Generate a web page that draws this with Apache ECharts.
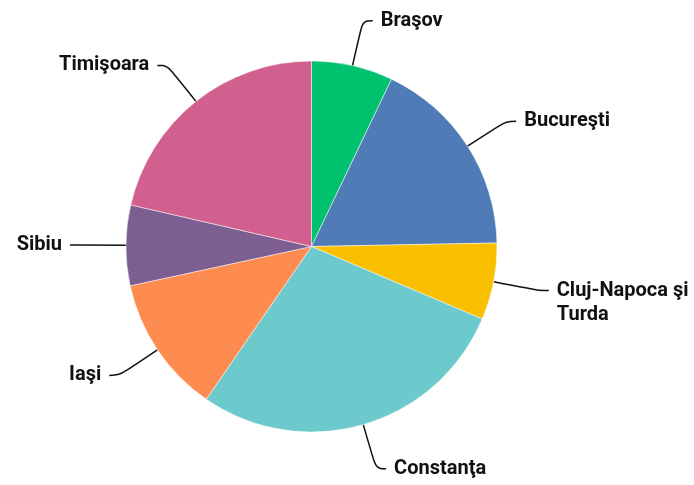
<!DOCTYPE html>
<html>
<head>
<meta charset="utf-8">
<script src="https://cdn.jsdelivr.net/npm/echarts@6/dist/echarts.min.js"></script>
<style>
  html, body { margin: 0; padding: 0; background: #fff; }
  #chart { width: 694px; height: 485px; }
</style>
</head>
<body>
<div id="chart"></div>
<script>
// cities, clockwise from 12 o'clock
const cities = ['Braşov', 'Bucureşti', 'Cluj-Napoca şi Turda', 'Constanţa', 'Iaşi', 'Sibiu', 'Timişoara'];
const shares = [7.1, 17.6, 6.7, 28.2, 12.0, 7.0, 21.4];
const colors = ['#00c16e', '#4f7cb6', '#fac000', '#6cc9cc', '#fe8b50', '#7c5e90', '#d2608e'];

const chart = echarts.init(document.getElementById('chart'));

chart.setOption({
  animation: false,
  series: [
    {
      type: 'pie',
      center: [311.5, 246.5],
      radius: 185.5,
      startAngle: 90,
      clockwise: true,
      data: cities.map((name, i) => ({
        name: name,
        value: shares[i],
        itemStyle: { color: colors[i] }
      })),
      itemStyle: { borderColor: '#fff', borderWidth: 0.5 },
      label: {
        show: true,
        // long name wraps; empty first line keeps "Cluj-Napoca şi" on the leader line
        formatter: p => p.name.indexOf(' şi ') > 0 ? '\n' + p.name.replace(' şi ', ' şi\n') : p.name,
        fontFamily: 'Roboto',
        fontWeight: 'bold',
        fontSize: 20,
        lineHeight: 24,
        color: '#111',
        overflow: 'none',
        distanceToLabelLine: 8
      },
      labelLine: {
        show: true,
        length: 46,
        length2: 10,
        smooth: 0.4,
        lineStyle: { color: '#111', width: 1.5 }
      },
      emphasis: { disabled: true }
    }
  ]
});
</script>
</body>
</html>
